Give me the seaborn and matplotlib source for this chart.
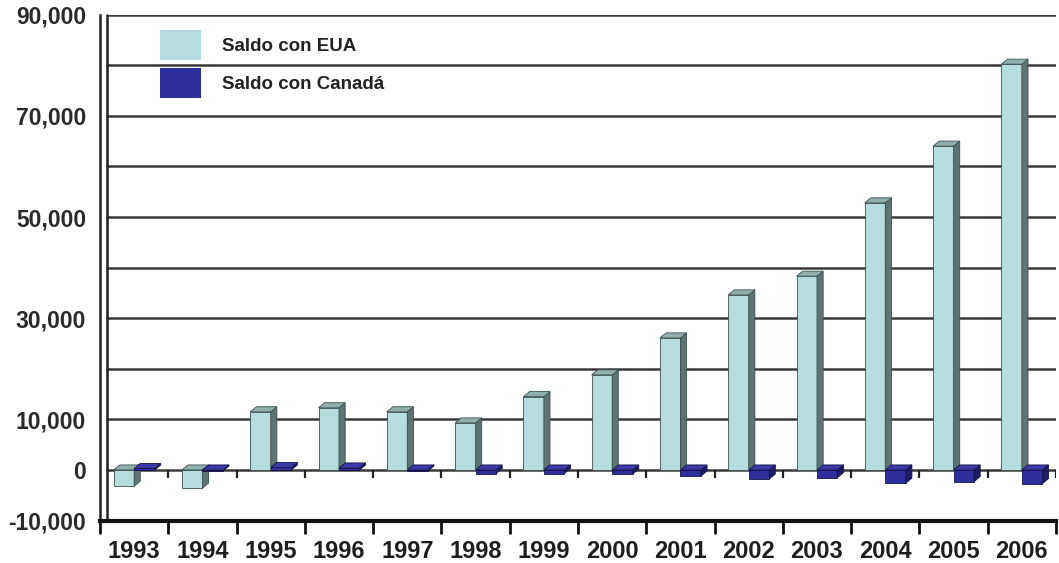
import numpy as np
import pandas as pd
import seaborn as sns
import matplotlib
matplotlib.use("Agg")
import matplotlib.pyplot as plt
from matplotlib.patches import Polygon
from matplotlib.ticker import FixedLocator, FixedFormatter

# ---- data ----
years = [str(y) for y in range(1993, 2007)]
saldo_eua = [-3200, -3600, 11500, 12300, 11500, 9300, 14500, 18800,
             26100, 34600, 38300, 52800, 64000, 80200]
saldo_canada = [300, -200, 500, 400, -200, -700, -700, -800,
                -1200, -1800, -1500, -2600, -2300, -2700]
series_names = ["Saldo con EUA", "Saldo con Canadá"]
y_ticks = list(range(-10000, 90001, 10000))
y_tick_labels = ["-10,000", "0", "10,000", "", "30,000", "", "50,000", "",
                 "70,000", "", "90,000"]

df = pd.DataFrame({
    "year": years * 2,
    "value": saldo_eua + saldo_canada,
    "series": [series_names[0]] * len(years) + [series_names[1]] * len(years),
})

front_colors = ["#b5dde0", "#2e2f9c"]
side_colors = ["#5d7472", "#1c1c62"]
top_colors = ["#8fb0ad", "#3a3aa8"]
edge_colors = ["#3b4f4d", "#15154a"]

sns.set_theme(style="white")
plt.rcParams["font.family"] = ["Liberation Sans", "DejaVu Sans"]

fig = plt.figure(figsize=(10.59, 5.63), dpi=100)
ax = fig.add_axes([100 / 1059, 1 - 520.6 / 563, 956 / 1059, (520.6 - 14.6) / 563])

sns.barplot(data=df, x="year", y="value", hue="series", palette=front_colors,
            width=0.6, edgecolor="#333333", linewidth=0.6, ax=ax,
            saturation=1, zorder=3)

ax.set_xlim(-0.5, 13.5)
ax.set_ylim(-10000, 90000)

# 3D faces derived from the seaborn bars
dx = 0.09
dy = 1000
for i, cont in enumerate(ax.containers):
    z = 3 + i
    for bar in cont:
        bar.set_edgecolor(edge_colors[i])
        bar.set_zorder(z)
        x0 = bar.get_x()
        w = bar.get_width()
        y0 = bar.get_y()
        h = bar.get_height()
        top = max(y0, y0 + h)
        bot = min(y0, y0 + h)
        side = Polygon([(x0 + w, bot), (x0 + w + dx, bot + dy),
                        (x0 + w + dx, top + dy), (x0 + w, top)],
                       closed=True, facecolor=side_colors[i],
                       edgecolor=edge_colors[i], linewidth=0.6, zorder=z)
        topf = Polygon([(x0, top), (x0 + dx, top + dy),
                        (x0 + w + dx, top + dy), (x0 + w, top)],
                       closed=True, facecolor=top_colors[i],
                       edgecolor=edge_colors[i], linewidth=0.6, zorder=z)
        ax.add_patch(side)
        ax.add_patch(topf)

# gridlines (start at the inner wall line)
inner = 7 / 956
for yv in y_ticks[1:]:
    ax.axhline(yv, xmin=inner, xmax=1, color="#3a3a3a", linewidth=1.8, zorder=1)

# small ticks below the zero line at category boundaries
bounds = np.arange(-0.5, len(years), 1.0)
for b in bounds[1:]:
    ax.plot([b, b], [0, -1600], color="#222222", linewidth=1.6, zorder=2,
            solid_capstyle="butt")

# inner wall line
ax.plot([inner, inner], [0, 1], transform=ax.transAxes, color="#222222",
        linewidth=1.8, zorder=2, clip_on=False)

# spines
for s in ["top", "right"]:
    ax.spines[s].set_visible(False)
ax.spines["left"].set_linewidth(1.8)
ax.spines["left"].set_color("#222222")
ax.spines["bottom"].set_linewidth(3)
ax.spines["bottom"].set_color("#111111")

# y axis
ax.yaxis.set_major_locator(FixedLocator(y_ticks))
ax.yaxis.set_major_formatter(FixedFormatter(y_tick_labels))
ax.tick_params(axis="y", which="major", direction="out", length=5, width=1.5,
               color="#222222", pad=5, labelsize=16.5, labelcolor="#2a2a2a")
for lab in ax.get_yticklabels():
    lab.set_fontweight("bold")

# x axis
ax.set_xticks(range(len(years)))
ax.set_xticklabels(years)
ax.xaxis.set_minor_locator(FixedLocator(bounds))
ax.tick_params(axis="x", which="major", length=0, pad=14, labelsize=17,
               labelcolor="#1e1e1e")
ax.tick_params(axis="x", which="minor", direction="out", length=9, width=2,
               color="#111111", bottom=True)
for lab in ax.get_xticklabels():
    lab.set_fontweight("bold")

ax.set_xlabel("")
ax.set_ylabel("")

# legend
handles, labels = ax.get_legend_handles_labels()
leg = ax.legend(handles, labels, loc="upper left",
                bbox_to_anchor=(160 / 1059, 1 - 30 / 563),
                bbox_transform=fig.transFigure, frameon=False,
                borderpad=0, borderaxespad=0, handlelength=2.2,
                handleheight=2.1, handletextpad=1.1, labelspacing=0.42,
                prop={"size": 13.5, "weight": "bold"})
for h in leg.legend_handles:
    h.set_edgecolor("none")
for t in leg.get_texts():
    t.set_color("#222222")

fig.savefig("out.png", dpi=100)
